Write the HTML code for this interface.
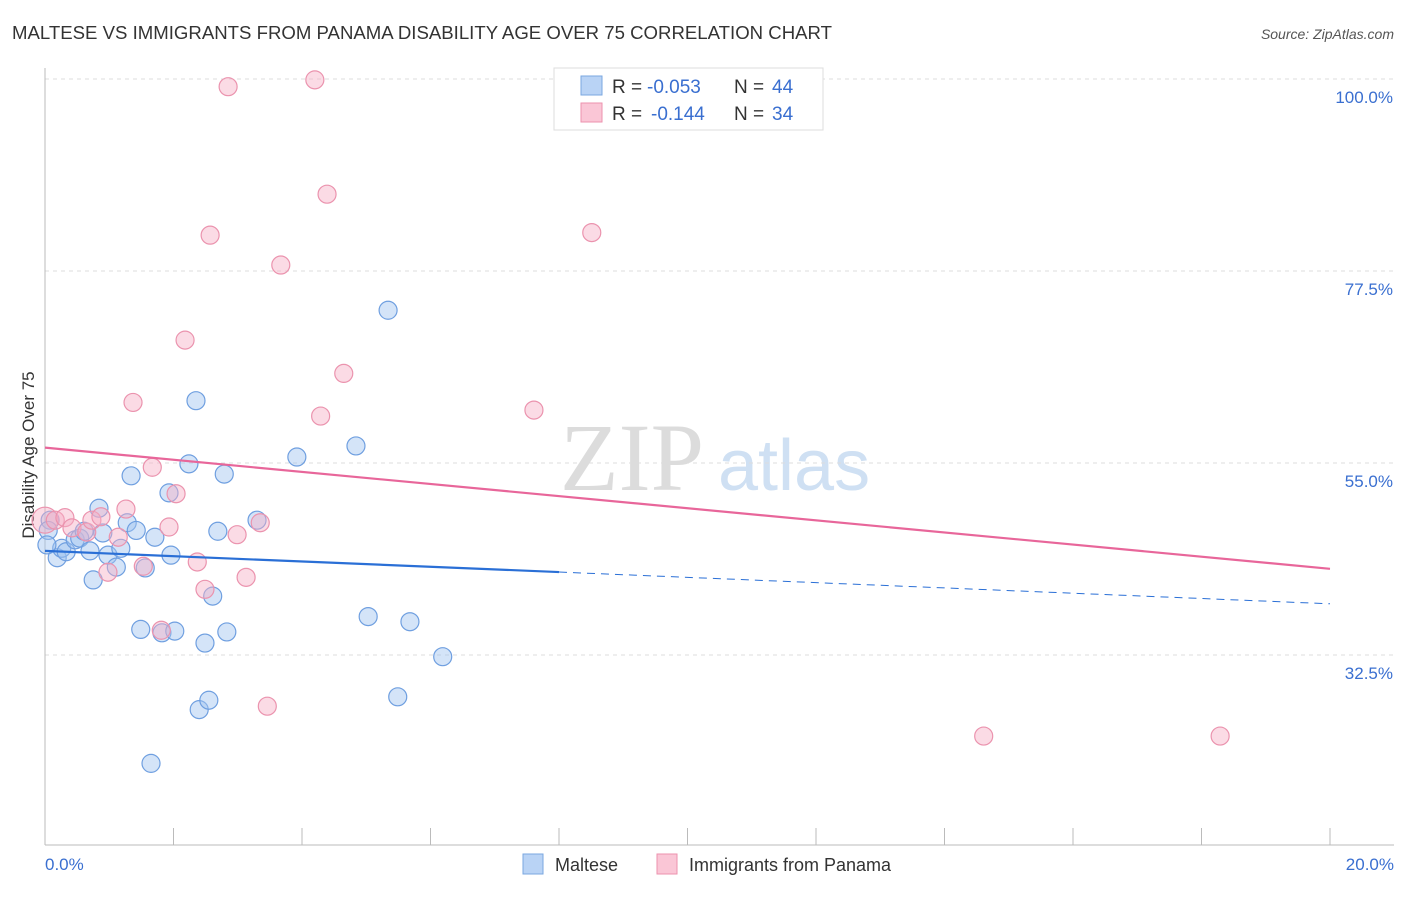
<!DOCTYPE html>
<html><head><meta charset="utf-8"><style>
body{margin:0;background:#fff;font-family:"Liberation Sans",sans-serif}
</style></head><body>
<svg id="c" width="1406" height="892" xmlns="http://www.w3.org/2000/svg" font-family="Liberation Sans, sans-serif">
<text x="12" y="39" font-size="18" fill="#333" textLength="820" lengthAdjust="spacingAndGlyphs">MALTESE VS IMMIGRANTS FROM PANAMA DISABILITY AGE OVER 75 CORRELATION CHART</text>
<text x="1394" y="39" font-size="14" fill="#555" font-style="italic" text-anchor="end">Source: ZipAtlas.com</text>
<text x="560" y="490" font-size="96" fill="#dcdcdc" font-family="Liberation Serif, serif">ZIP</text>
<text x="718" y="490" font-size="72" fill="#cfe0f3">atlas</text>
<text transform="translate(34,455) rotate(-90)" font-size="17" fill="#333" text-anchor="middle">Disability Age Over 75</text>
<g id="grid"></g><g id="marks"></g>
<g>
<rect x="554" y="68" width="269" height="62" fill="#fff" stroke="#ddd"/>
<rect x="581" y="76" width="21" height="19" fill="#b9d3f5" stroke="#7aa7e0"/>
<rect x="581" y="103" width="21" height="19" fill="#fac6d6" stroke="#ec92ae"/>
<text x="612" y="93" font-size="19" fill="#333">R =</text>
<text x="647" y="93" font-size="19" fill="#3a6fd0">-0.053</text>
<text x="734" y="93" font-size="19" fill="#333">N =</text>
<text x="772" y="93" font-size="19" fill="#3a6fd0">44</text>
<text x="612" y="120" font-size="19" fill="#333">R =</text>
<text x="651" y="120" font-size="19" fill="#3a6fd0">-0.144</text>
<text x="734" y="120" font-size="19" fill="#333">N =</text>
<text x="772" y="120" font-size="19" fill="#3a6fd0">34</text>
</g>
<g>
<rect x="523" y="854" width="20" height="20" fill="#b9d3f5" stroke="#7aa7e0"/>
<text x="555" y="871" font-size="18" fill="#333">Maltese</text>
<rect x="657" y="854" width="20" height="20" fill="#fac6d6" stroke="#ec92ae"/>
<text x="689" y="871" font-size="18" fill="#333">Immigrants from Panama</text>
</g>
</svg>
<script>
const yTicks=[100,77.5,55,32.5];
const yTickLabels=["100.0%","77.5%","55.0%","32.5%"];
const xEnds=["0.0%","20.0%"];
const blueX=[0.08,0.05,0.19,0.26,0.33,0.47,0.54,0.61,0.70,0.75,0.84,0.90,0.98,1.11,1.18,1.28,1.34,1.42,1.49,1.56,1.71,1.82,1.93,1.96,2.02,2.24,2.35,2.40,2.49,2.55,2.61,2.69,2.79,2.83,3.30,3.92,4.84,5.03,5.34,5.49,5.68,6.19,1.65,0.03];
const blueY=[48.3,47.1,43.9,45.0,44.6,46.0,46.2,47.0,44.7,41.3,49.7,46.8,44.2,42.8,45.0,48.0,53.5,47.1,35.5,42.7,46.3,35.1,51.5,44.2,35.3,54.9,62.3,26.1,33.9,27.2,39.4,47.0,53.7,35.2,48.3,55.7,57.0,37.0,72.9,27.6,36.4,32.3,19.8,45.4];
const pinkX=[0.00,0.16,0.31,0.42,0.65,0.73,0.87,0.98,1.14,1.26,1.37,1.53,1.67,1.81,1.93,2.04,2.18,2.37,2.49,2.57,2.85,2.99,3.13,3.35,3.46,3.67,4.20,4.29,4.39,4.65,7.61,8.51,14.61,18.29];
const pinkY=[48.3,48.3,48.6,47.4,46.9,48.3,48.7,42.2,46.3,49.6,62.1,42.9,54.5,35.4,47.5,51.4,69.4,43.4,40.2,81.7,99.1,46.6,41.6,48.0,26.5,78.2,99.9,60.5,86.5,65.5,61.2,82.0,23.0,23.0];
const blueTrend=[44.7,38.5];
const pinkTrend=[56.8,42.6];
const NS="http://www.w3.org/2000/svg";
const xs=v=>45+v/20*1285;
const ys=v=>79+(100-v)*192/22.5;
function mk(t,a,p){const e=document.createElementNS(NS,t);for(const k in a)e.setAttribute(k,a[k]);p.appendChild(e);return e;}
const g=document.getElementById('grid'),m=document.getElementById('marks');
yTicks.forEach((t,i)=>{
 const l=mk('line',{x1:45,x2:1394,y1:ys(t),y2:ys(t),stroke:'#ddd','stroke-dasharray':'4,4'},g);
 
 
 const tx=mk('text',{x:1393,y:ys(t)+24,'font-size':17,fill:'#3a6fd0','text-anchor':'end'},g);
 tx.textContent=yTickLabels[i];
 
 
});
const ax=mk('line',{x1:45,x2:45,y1:68,y2:845,stroke:'#bbb'},g);


const bx=mk('line',{x1:45,x2:1394,y1:845,y2:845,stroke:'#bbb'},g);


for(let i=0;i<=10;i++){const tk=mk('line',{x1:xs(i*2),x2:xs(i*2),y1:828,y2:845,stroke:'#bbb'},g);
 
 }
[[0,'start',45],[20,'end',1394]].forEach((o,i)=>{const t=mk('text',{x:o[2],y:870,'font-size':17,fill:'#3a6fd0','text-anchor':o[1]},g);t.textContent=xEnds[i];
 
 });
function pts(X,Y,f,s,name){X.forEach((x,i)=>{const c=mk('circle',{cx:xs(x),cy:ys(Y[i]),r:(name==='pink-point'&&i===0)?13:9,fill:f,stroke:s,'stroke-width':1.2},m);
 
 });}
pts(blueX,blueY,'rgba(160,196,240,0.45)','#6f9fe0','blue-point');
pts(pinkX,pinkY,'rgba(247,175,197,0.45)','#eb93ae','pink-point');
const bs=blueTrend[0]+(blueTrend[1]-blueTrend[0])*0.4;
const t1=mk('line',{x1:xs(0),y1:ys(blueTrend[0]),x2:xs(8),y2:ys(bs),stroke:'#2a6fd6','stroke-width':2.2},m);


const t2=mk('line',{x1:xs(8),y1:ys(bs),x2:xs(20),y2:ys(blueTrend[1]),stroke:'#2a6fd6','stroke-width':1,'stroke-dasharray':'8,6'},m);


const t3=mk('line',{x1:xs(0),y1:ys(pinkTrend[0]),x2:xs(20),y2:ys(pinkTrend[1]),stroke:'#e8669a','stroke-width':2.2},m);


</script>
</body></html>
